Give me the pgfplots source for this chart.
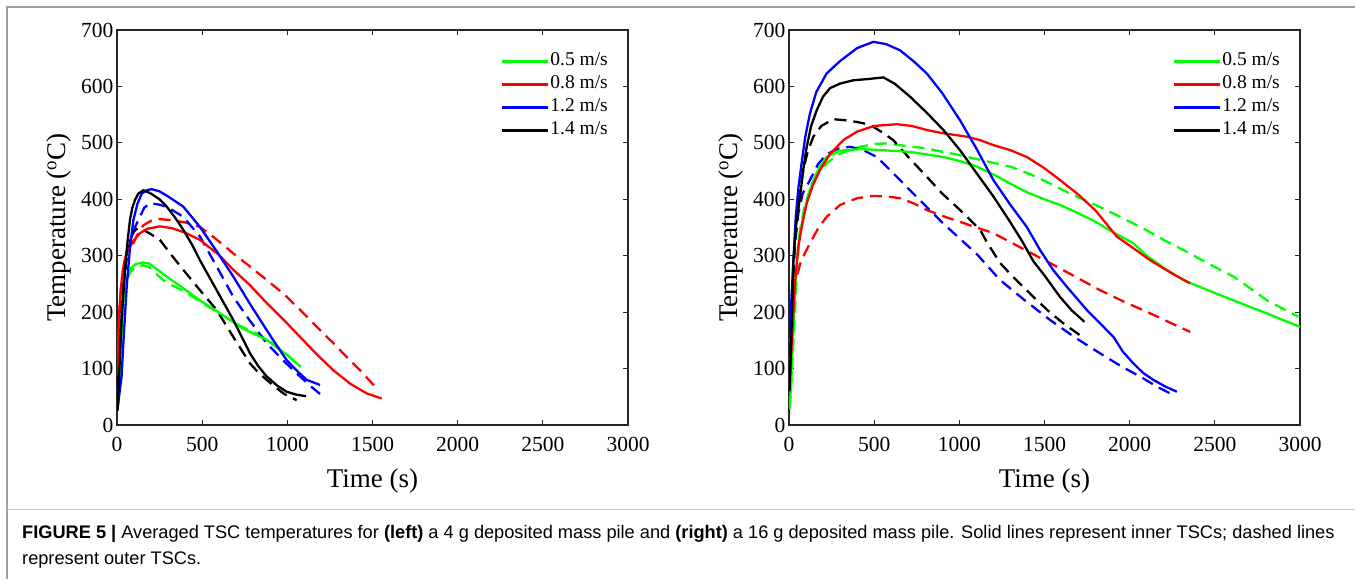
\documentclass[border=0pt]{standalone}
\usepackage{fontspec}
\setmainfont{Liberation Serif}
\newfontfamily\capfont{Liberation Sans}
\usepackage{pgfplots}
\pgfplotsset{compat=1.18}
\definecolor{mgreen}{RGB}{0,255,0}
\definecolor{mred}{RGB}{255,0,0}
\definecolor{mblue}{RGB}{0,0,255}
\definecolor{axgray}{RGB}{38,38,38}

\pgfplotsset{
  tsc/.style={
    scale only axis, width=511pt, height=395pt,
    xmin=0, xmax=3000, ymin=0, ymax=700,
    xtick={0,500,...,3000}, ytick={0,100,...,700},
    tick align=inside, major tick length=5pt,
    axis line style={draw=axgray, line width=1.1pt},
    every tick/.style={draw=axgray, line width=1pt},
    tick label style={font=\fontsize{21.5}{21.5}\selectfont},
    /pgf/number format/assume math mode=true,
    /pgf/number format/1000 sep={},
    xticklabel style={yshift=-9pt},
    xlabel={Time (s)}, ylabel={Temperature (\textsuperscript{o}C)},
    label style={font=\fontsize{27}{27}\selectfont},
    xlabel style={at={(axis description cs:0.5,0)}, anchor=base, yshift=-62pt},
    ylabel style={at={(axis description cs:-0.1135,0.5)}, anchor=center},
    legend style={draw=none, fill=none, at={(1,1)}, anchor=north east,
      xshift=-16pt, yshift=-20pt, font=\fontsize{19.5}{19.5}\selectfont,
      nodes={inner sep=1pt, text height=12pt, text depth=4pt},
      row sep=5pt},
    legend cell align=left,
    legend image code/.code={\draw[#1, line width=2.8pt] (0pt,0pt) -- (46pt,0pt);},
    every axis plot/.append style={line width=2.3pt},
  },
  dsh/.style={dash pattern=on 12pt off 7pt, forget plot},
}

\begin{document}
\begin{tikzpicture}
\useasboundingbox (0,0) rectangle (1355pt,-579pt);
\draw[gray!75, line width=1.3pt] (7pt,-579pt) -- (7pt,-7pt) -- (1356pt,-7pt);
\draw[gray!45, line width=0.8pt] (7pt,-509pt) -- (1356pt,-509pt);

% left: 4 g pile
\begin{axis}[tsc, at={(117pt,-425pt)}, anchor=south west]
\addplot[mgreen, dsh] coordinates {(3,25) (8,42) (14,75) (20,112) (28,160) (37,205) (50,242) (65,262) (85,274) (110,280) (150,283) (190,280) (230,268) (270,257) (320,248) (400,236) (487,219) (600,198) (722,176) (800,165) (879,152) (950,136) (1000,124) (1050,110)};
\addplot[mred, dsh] coordinates {(3,90) (8,150) (15,205) (25,250) (40,285) (60,308) (96,322) (125,340) (155,354) (200,362) (250,365) (320,363) (400,359) (487,351) (580,330) (683,304) (780,281) (879,257) (980,232) (1075,204) (1170,175) (1270,145) (1350,120) (1427,97) (1515,68)};
\addplot[mblue, dsh] coordinates {(3,40) (10,90) (20,160) (35,230) (55,290) (80,330) (105,350) (128,365) (160,385) (194,393) (240,391) (292,387) (389,369) (487,334) (585,281) (683,227) (780,185) (879,145) (980,113) (1075,86) (1140,68) (1192,55)};
\addplot[black, dsh] coordinates {(3,30) (10,90) (20,170) (30,230) (45,280) (60,310) (76,328) (100,343) (125,350) (160,345) (200,338) (252,328) (320,301) (389,275) (487,239) (585,204) (683,156) (781,109) (830,93) (879,80) (930,67) (977,56) (1020,49) (1055,44)};
\addplot[mgreen] coordinates {(3,25) (8,45) (14,80) (20,120) (28,170) (37,215) (50,250) (65,268) (85,279) (110,285) (150,288) (190,286) (230,277) (270,268) (320,257) (400,240) (487,221) (600,199) (722,174) (800,162) (879,151) (950,135) (1000,124) (1040,113) (1080,103)};
\addplot[mred] coordinates {(3,100) (8,160) (15,210) (25,250) (40,285) (55,303) (76,316) (100,328) (135,340) (180,348) (252,352) (320,349) (400,341) (487,328) (600,301) (683,275) (780,248) (879,216) (980,186) (1075,156) (1170,126) (1270,97) (1370,73) (1466,56) (1554,47)};
\addplot[mblue] coordinates {(3,30) (10,45) (18,65) (27,86) (40,160) (57,245) (75,310) (96,363) (120,392) (145,410) (175,416) (204,418) (250,414) (300,405) (389,387) (487,351) (585,308) (683,263) (780,215) (879,168) (940,140) (996,115) (1060,95) (1114,80) (1192,71)};
\addplot[black] coordinates {(3,25) (10,70) (20,140) (30,200) (47,275) (60,320) (76,363) (90,385) (106,399) (125,410) (155,416) (200,410) (250,400) (292,387) (340,368) (389,346) (440,320) (487,292) (585,239) (683,186) (781,127) (830,104) (879,86) (940,70) (996,59) (1050,54) (1110,51)};
\legend{0.5 m/s, 0.8 m/s, 1.2 m/s, 1.4 m/s}
\end{axis}

% right: 16 g pile
\begin{axis}[tsc, at={(789pt,-425pt)}, anchor=south west]
\addplot[mgreen, dsh] coordinates {(3,30) (10,55) (20,110) (35,200) (50,290) (65,346) (90,385) (123,416) (170,445) (221,464) (300,481) (417,493) (500,498) (574,499) (700,494) (809,490) (1004,478) (1150,468) (1298,458) (1420,444) (1533,428) (1650,410) (1800,390) (1950,368) (2100,345) (2200,328) (2315,310) (2450,288) (2609,263) (2700,244) (2805,221) (2900,206) (2991,192)};
\addplot[mred, dsh] coordinates {(3,100) (10,160) (20,210) (35,250) (65,285) (94,305) (123,322) (170,348) (221,369) (300,390) (400,402) (495,406) (570,405) (652,402) (730,393) (809,381) (906,370) (1004,360) (1100,350) (1200,340) (1300,324) (1400,308) (1533,287) (1680,263) (1826,239) (1970,218) (2120,198) (2240,181) (2355,165)};
\addplot[mblue, dsh] coordinates {(3,127) (10,180) (20,250) (35,320) (55,375) (80,410) (123,434) (170,462) (221,480) (290,490) (358,493) (430,488) (515,475) (610,447) (710,416) (806,387) (906,357) (1004,330) (1102,303) (1239,257) (1380,222) (1533,186) (1680,155) (1826,127) (1950,104) (2061,86) (2160,68) (2257,53)};
\addplot[black, dsh] coordinates {(3,60) (10,130) (20,220) (35,330) (55,400) (84,452) (110,485) (143,511) (190,530) (260,542) (330,540) (400,537) (476,532) (540,520) (612,505) (700,475) (809,440) (900,410) (1004,381) (1122,346) (1160,325) (1239,287) (1330,258) (1435,227) (1530,200) (1620,178) (1709,159)};
\addplot[mgreen] coordinates {(3,28) (10,60) (20,130) (30,200) (45,287) (60,335) (84,369) (110,405) (143,434) (180,458) (221,475) (300,486) (417,489) (550,487) (710,484) (906,475) (1000,468) (1102,458) (1200,444) (1298,428) (1400,412) (1500,400) (1591,390) (1700,375) (1800,360) (1900,342) (2022,322) (2100,300) (2218,275) (2315,257) (2450,240) (2609,221) (2700,210) (2805,198) (2900,186) (3000,174)};
\addplot[mred] coordinates {(3,65) (10,110) (20,170) (35,250) (55,316) (80,360) (104,393) (140,425) (182,452) (240,480) (319,505) (400,520) (500,530) (632,533) (720,530) (820,522) (906,517) (1043,511) (1120,505) (1200,496) (1300,487) (1396,475) (1500,455) (1591,434) (1700,408) (1800,380) (1924,334) (2000,318) (2120,292) (2240,270) (2355,251)};
\addplot[mblue] coordinates {(3,155) (10,200) (18,245) (25,287) (40,370) (55,420) (74,464) (95,510) (123,552) (160,590) (221,623) (300,645) (400,668) (495,679) (570,675) (652,664) (730,645) (809,623) (900,588) (1004,540) (1100,490) (1200,434) (1300,390) (1396,351) (1474,310) (1550,275) (1631,245) (1748,204) (1905,156) (1960,130) (2022,109) (2080,92) (2139,80) (2210,68) (2277,59)};
\addplot[black] coordinates {(3,60) (10,120) (18,200) (25,287) (40,350) (65,405) (85,455) (104,493) (130,530) (163,558) (200,582) (241,597) (300,605) (378,611) (460,613) (554,616) (620,605) (710,582) (810,553) (906,523) (1004,487) (1102,446) (1200,405) (1298,360) (1370,325) (1435,290) (1500,265) (1591,227) (1660,203) (1734,183)};
\legend{0.5 m/s, 0.8 m/s, 1.2 m/s, 1.4 m/s}
\end{axis}

\node[anchor=base west, inner sep=0pt, align=left,
      font=\capfont\fontsize{18.2}{26}\selectfont] at (22pt,-564pt)
  {\textbf{FIGURE 5 |} Averaged TSC temperatures for \textbf{(left)} a 4 g deposited mass pile and \textbf{(right)} a 16 g deposited mass pile. Solid lines represent inner TSCs; dashed lines\\ represent outer TSCs.};
\end{tikzpicture}
\end{document}
